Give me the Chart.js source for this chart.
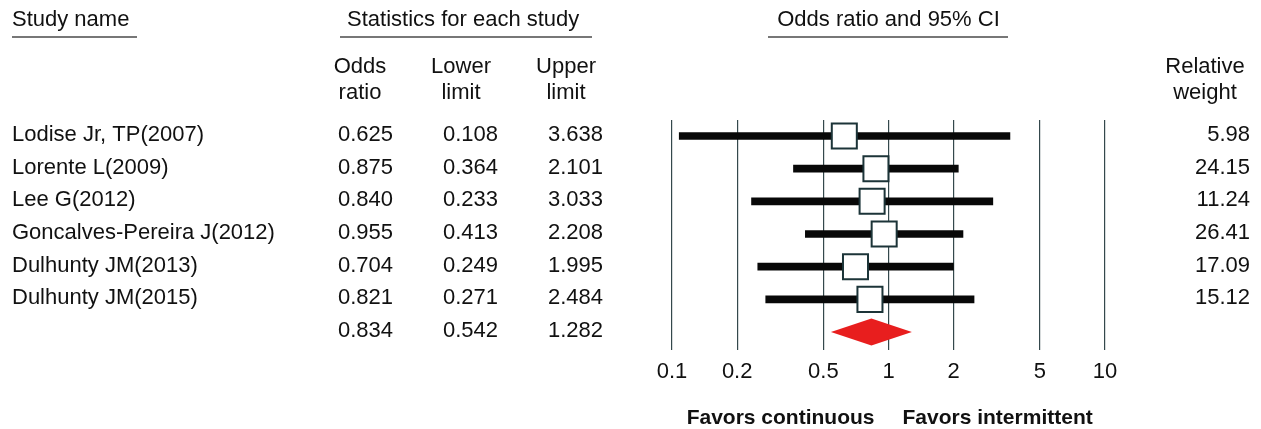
<!DOCTYPE html>
<html>
<head>
<meta charset="utf-8">
<title>Forest plot</title>
<script src="https://cdn.jsdelivr.net/npm/chart.js@4.4.1/dist/chart.umd.min.js"></script>
<style>
  body { margin: 0; background: #ffffff; }
  #wrap { width: 1261px; height: 429px; }
</style>
</head>
<body>
<div id="wrap"><canvas id="forestChart" width="1261" height="429"></canvas></div>
<script>
// study data
const studies = ['Lodise Jr, TP(2007)', 'Lorente L(2009)', 'Lee G(2012)', 'Goncalves-Pereira J(2012)', 'Dulhunty JM(2013)', 'Dulhunty JM(2015)'];
const oddsRatio = [0.625, 0.875, 0.840, 0.955, 0.704, 0.821];
const lowerLimit = [0.108, 0.364, 0.233, 0.413, 0.249, 0.271];
const upperLimit = [3.638, 2.101, 3.033, 2.208, 1.995, 2.484];
const relWeight = [5.98, 24.15, 11.24, 26.41, 17.09, 15.12];

// pooled estimate
const pooledOR = 0.834;
const pooledLower = 0.542;
const pooledUpper = 1.282;

const tickValues = [0.1, 0.2, 0.5, 1, 2, 5, 10];
const tickLabels = ['0.1', '0.2', '0.5', '1', '2', '5', '10'];

const FONT = '"Liberation Sans", Arial, sans-serif';
const summaryRow = studies.length;

// draws the text table round the plot + the pooled diamond
const tablePlugin = {
    id: 'tablePlugin',
    afterDatasetsDraw(chart) {
        const ctx = chart.ctx;
        const x = chart.scales.x;
        const y = chart.scales.y;
        const yp = y.getPixelForValue(summaryRow);
        ctx.save();
        ctx.fillStyle = '#e81e1e';
        ctx.beginPath();
        ctx.moveTo(x.getPixelForValue(pooledLower), yp);
        ctx.lineTo(x.getPixelForValue(pooledOR), yp - 13.5);
        ctx.lineTo(x.getPixelForValue(pooledUpper), yp);
        ctx.lineTo(x.getPixelForValue(pooledOR), yp + 13.5);
        ctx.closePath();
        ctx.fill();
        ctx.restore();
    },
    afterDraw(chart) {
        const ctx = chart.ctx;
        const x = chart.scales.x;
        const y = chart.scales.y;
        const area = chart.chartArea;
        ctx.save();
        ctx.fillStyle = '#111111';
        ctx.textBaseline = 'middle';
        ctx.font = '22px ' + FONT;

        // top headers
        ctx.textAlign = 'left';
        ctx.fillText('Study name', 12, 20);
        ctx.fillText('Statistics for each study', 347, 20);
        ctx.textAlign = 'center';
        ctx.fillText('Odds ratio and 95% CI', (area.left + area.right) / 2, 20);

        ctx.strokeStyle = '#4a4a4a';
        ctx.lineWidth = 1.5;
        [[12, 137], [340, 592], [768, 1008]].forEach(seg => {
            ctx.beginPath();
            ctx.moveTo(seg[0], 37);
            ctx.lineTo(seg[1], 37);
            ctx.stroke();
        });

        // column headers
        ctx.fillText('Odds', 360, 67);
        ctx.fillText('ratio', 360, 93);
        ctx.fillText('Lower', 461, 67);
        ctx.fillText('limit', 461, 93);
        ctx.fillText('Upper', 566, 67);
        ctx.fillText('limit', 566, 93);
        ctx.fillText('Relative', 1205, 67);
        ctx.fillText('weight', 1205, 93);

        // rows
        studies.forEach((name, i) => {
            const py = y.getPixelForValue(i) - 1;
            ctx.textAlign = 'left';
            ctx.fillText(name, 12, py);
            ctx.textAlign = 'right';
            ctx.fillText(oddsRatio[i].toFixed(3), 393, py);
            ctx.fillText(lowerLimit[i].toFixed(3), 498, py);
            ctx.fillText(upperLimit[i].toFixed(3), 603, py);
            ctx.fillText(relWeight[i].toFixed(2), 1250, py);
        });
        const sy = y.getPixelForValue(summaryRow) - 1;
        ctx.textAlign = 'right';
        ctx.fillText(pooledOR.toFixed(3), 393, sy);
        ctx.fillText(pooledLower.toFixed(3), 498, sy);
        ctx.fillText(pooledUpper.toFixed(3), 603, sy);

        // favours labels
        ctx.font = 'bold 21px ' + FONT;
        const one = x.getPixelForValue(1);
        ctx.textAlign = 'right';
        ctx.fillText('Favors continuous', one - 14, 418);
        ctx.textAlign = 'left';
        ctx.fillText('Favors intermittent', one + 14, 418);
        ctx.restore();
    }
};

const ctx = document.getElementById('forestChart').getContext('2d');
const forestChart = new Chart(ctx, {
    type: 'bar',
    data: {
        datasets: [
            {
                type: 'bar',
                indexAxis: 'y',
                data: studies.map((s, i) => ({ y: i, x: [lowerLimit[i], upperLimit[i]] })),
                backgroundColor: '#080808',
                borderWidth: 0,
                barThickness: 7,
                order: 2
            },
            {
                type: 'scatter',
                data: studies.map((s, i) => ({ x: oddsRatio[i], y: i })),
                pointStyle: 'rect',
                pointRadius: 17.7,
                pointHoverRadius: 17.7,
                backgroundColor: '#ffffff',
                borderColor: '#1c3438',
                borderWidth: 2,
                order: 1
            }
        ]
    },
    options: {
        responsive: false,
        animation: false,
        layout: { padding: { left: 672, right: 156, top: 120, bottom: 0 } },
        plugins: {
            legend: { display: false },
            tooltip: { enabled: false }
        },
        scales: {
            x: {
                type: 'logarithmic',
                position: 'bottom',
                offset: false,
                min: 0.1,
                max: 10,
                afterBuildTicks: (scale) => {
                    scale.ticks = tickValues.map(v => ({ value: v }));
                },
                afterFit: (scale) => {
                    scale.height = 79;
                    scale.paddingLeft = 0;
                    scale.paddingRight = 0;
                },
                ticks: {
                    autoSkip: false,
                    maxRotation: 0,
                    padding: 9,
                    color: '#111111',
                    font: { family: FONT, size: 22 },
                    callback: (val, i) => tickLabels[i]
                },
                grid: {
                    offset: false,
                    color: '#34484c',
                    lineWidth: 1.2,
                    drawTicks: false
                },
                border: { display: false }
            },
            y: {
                type: 'linear',
                display: false,
                offset: false,
                grid: { offset: false },
                reverse: true,
                min: -0.49,
                max: 6.55
            }
        }
    },
    plugins: [tablePlugin]
});
</script>
</body>
</html>
